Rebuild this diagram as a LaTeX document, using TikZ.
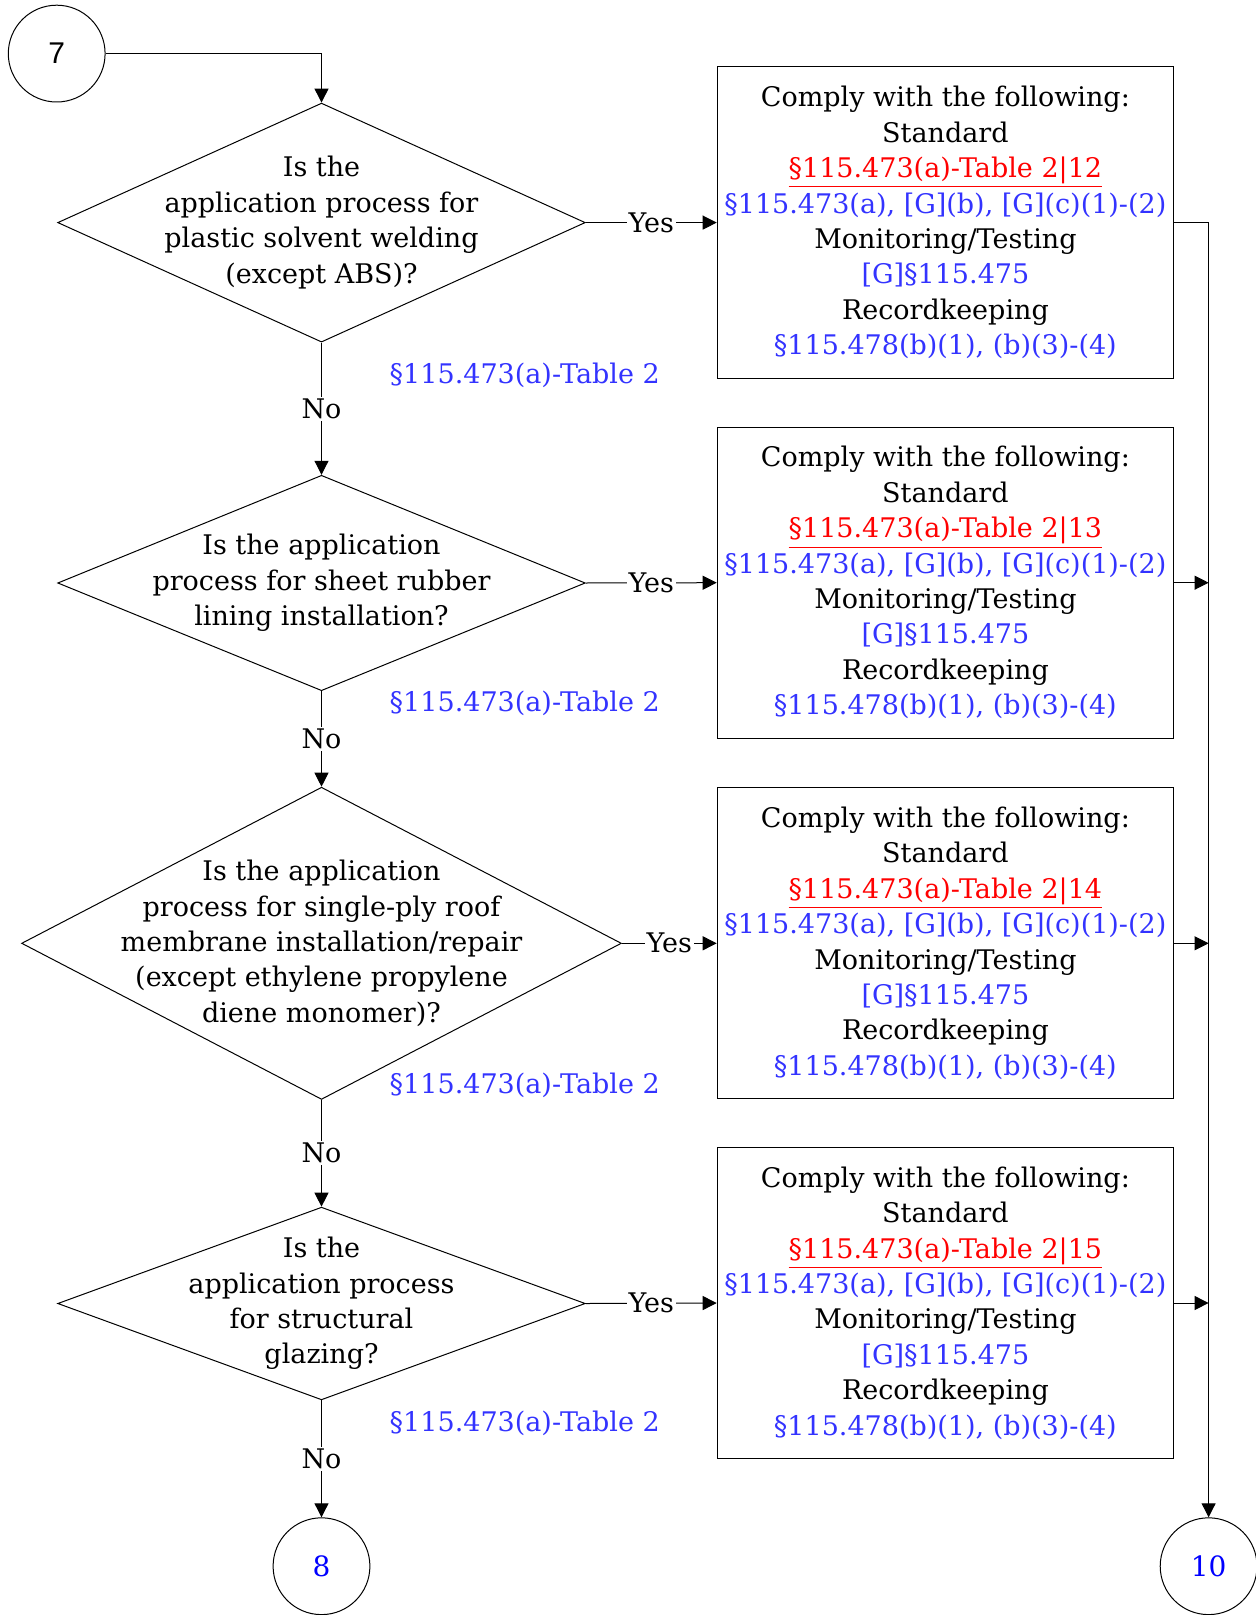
\documentclass[tikz,border=0pt]{standalone}
\usepackage{fontspec}
\setmainfont{DejaVu Serif}
\newfontfamily\arialfont{Liberation Sans}
\usetikzlibrary{shapes.geometric,arrows.meta}
\definecolor{refblue}{RGB}{51,51,255}
\definecolor{stdred}{RGB}{255,0,0}
\definecolor{connblue}{RGB}{0,0,255}
\newcommand{\cbox}[1]{Comply with the following:\\Standard\\{\color{stdred}\underline{§115.473(a)-Table 2|#1}}\\{\color{refblue}§115.473(a), [G](b), [G](c)(1)-(2)}\\Monitoring/Testing\\{\color{refblue}[G]§115.475}\\Recordkeeping\\{\color{refblue}§115.478(b)(1), (b)(3)-(4)}}
\begin{document}
\begin{tikzpicture}[x=0.5pt,y=-0.5pt, line width=0.5pt,
  txt/.style={font=\fontsize{13.5}{17.7}\selectfont, align=center},
  dia/.style={diamond, draw, inner sep=0pt, minimum width=263.8pt},
  box/.style={rectangle, draw, txt, minimum width=228.2pt, minimum height=155.6pt, inner sep=0pt},
  circ/.style={circle, draw, minimum size=48.4pt, inner sep=0pt},
  lbl/.style={txt, fill=white, inner sep=1pt},
  arr/.style={-{Triangle[length=7pt,width=7pt]}},
  refc/.style={txt, text=refblue, inner sep=0pt}
]
\useasboundingbox (0,0) rectangle (1255,1615);

\node[circ, font=\arialfont\fontsize{15}{18}\selectfont] (c7) at (56.7,53.6) {7};
\node[circ, text=connblue, font=\fontsize{14}{17}\selectfont] (c8) at (321.5,1566.2) {8};
\node[circ, text=connblue, font=\fontsize{14}{17}\selectfont] (c10) at (1208.6,1566.2) {10};

\node[dia, minimum height=119.5pt,
  label={[txt]center:{Is the\\application process for\\plastic solvent welding\\(except ABS)?}}] (d1) at (321.5,222.6) {};
\node[dia, minimum height=107.7pt,
  label={[txt]center:{Is the application\\process for sheet rubber\\lining installation?}}] (d2) at (321.5,583) {};
\node[dia, minimum width=299.9pt, minimum height=156.1pt,
  label={[txt]center:{Is the application\\process for single-ply roof\\membrane installation/repair\\(except ethylene propylene\\diene monomer)?}}] (d3) at (321.5,943.3) {};
\node[dia, minimum height=96.35pt,
  label={[txt]center:{Is the\\application process\\for structural\\glazing?}}] (d4) at (321.5,1303.5) {};

\node[box] (b1) at (945.4,222.6) {\cbox{12}};
\node[box] (b2) at (945.4,582.7) {\cbox{13}};
\node[box] (b3) at (945.4,943.3) {\cbox{14}};
\node[box] (b4) at (945.4,1303) {\cbox{15}};

\node[refc] (t1) at (524.8,375) {§115.473(a)-Table 2};
\node[refc] (t2) at (524.8,703.8) {§115.473(a)-Table 2};
\node[refc] (t3) at (524.8,1085) {§115.473(a)-Table 2};
\node[refc] (t4) at (524.8,1423) {§115.473(a)-Table 2};

\draw[arr] (c7.east) -| (d1.north);
\draw[arr] (d1.east) -- node[lbl]{Yes} (b1.west);
\draw[arr] (d2.east) -- node[lbl]{Yes} (b2.west);
\draw[arr] (d3.east) -- node[lbl]{Yes} (b3.west);
\draw[arr] (d4.east) -- node[lbl]{Yes} (b4.west);
\draw[arr] (d1.south) -- node[lbl]{No} (d2.north);
\draw[arr] (d2.south) -- node[lbl]{No} (d3.north);
\draw[arr] (d3.south) -- node[lbl]{No} (d4.north);
\draw[arr] (d4.south) -- node[lbl]{No} (c8.north);
\draw[arr] (b1.east) -| (c10.north);
\draw[arr] (b2.east) -- (b2.east -| c10.north);
\draw[arr] (b3.east) -- (b3.east -| c10.north);
\draw[arr] (b4.east) -- (b4.east -| c10.north);
\end{tikzpicture}
\end{document}
